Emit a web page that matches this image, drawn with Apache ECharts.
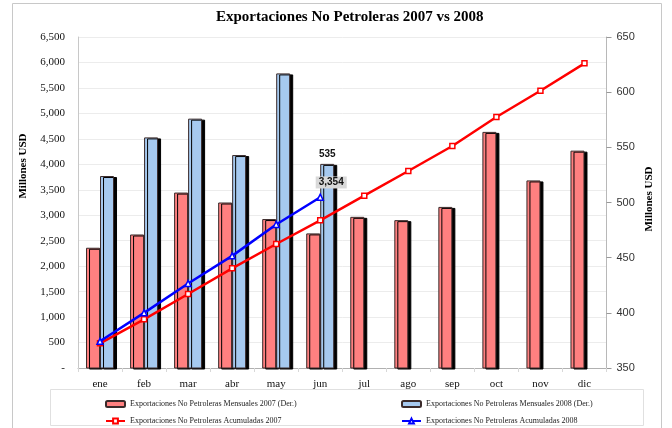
<!DOCTYPE html>
<html>
<head>
<meta charset="utf-8">
<script src="https://cdn.jsdelivr.net/npm/echarts@6/dist/echarts.min.js"></script>
<style>
  html, body { margin: 0; padding: 0; background: #fff; }
  #chart { width: 672px; height: 428px; }
</style>
</head>
<body>
<div id="chart"></div>
<script>
// datos
const meses = ['ene', 'feb', 'mar', 'abr', 'may', 'jun', 'jul', 'ago', 'sep', 'oct', 'nov', 'dic'];
const mensual2007 = [459, 471, 509, 500, 485, 472, 487, 484, 496, 564, 520, 547];
const mensual2008 = [524, 559, 576, 543, 617, 535];
const acum2007 = [485, 956, 1453, 1957, 2435, 2900, 3384, 3869, 4359, 4929, 5445, 5983];
const acum2008 = [524, 1083, 1659, 2202, 2819, 3354];

const names = [
  'Exportaciones No Petroleras Mensuales 2007 (Der.)',
  'Exportaciones No Petroleras Mensuales 2008 (Der.)',
  'Exportaciones No Petroleras Acumuladas 2007',
  'Exportaciones No Petroleras Acumuladas 2008'
];

const serif = '"Liberation Serif", "DejaVu Serif", serif';
const sans = '"Liberation Sans", Arial, sans-serif';

const chart = echarts.init(document.getElementById('chart'));

const barStyle = (color) => ({
  color: color,
  borderColor: '#3a2a2a',
  borderWidth: 1,
  shadowColor: '#000',
  shadowBlur: 0,
  shadowOffsetX: 3,
  shadowOffsetY: 1
});

const legendBase = {
  orient: 'horizontal',
  itemWidth: 19,
  itemHeight: 6,
  textStyle: { fontFamily: serif, fontSize: 8, color: '#222' }
};

const lastIdx = acum2008.length - 1;

chart.setOption({
  animation: false,
  backgroundColor: '#fff',
  title: {
    text: 'Exportaciones No Petroleras 2007 vs 2008',
    left: 211,
    top: 5,
    textStyle: { fontFamily: serif, fontSize: 15, fontWeight: 'bold', color: '#000' }
  },
  legend: [
    Object.assign({ data: [names[0]], left: 100, top: 395 }, legendBase),
    Object.assign({ data: [names[1]], left: 396, top: 395 }, legendBase),
    Object.assign({ data: [names[2]], left: 100, top: 412 }, legendBase),
    Object.assign({ data: [names[3]], left: 396, top: 412 }, legendBase)
  ],
  graphic: [
    { type: 'rect', shape: { x: 12.5, y: 3.5, width: 649, height: 440 },
      style: { fill: 'none', stroke: '#c8c8c8', lineWidth: 1 }, silent: true, z: -1 },
    { type: 'rect', shape: { x: 50.5, y: 389.5, width: 593, height: 36 },
      style: { fill: 'none', stroke: '#e0e0e0', lineWidth: 1 }, silent: true, z: -1 },
    { type: 'text', x: 23, y: 166, rotation: Math.PI / 2,
      style: { text: 'Millones USD', font: 'bold 11px ' + serif, fill: '#000',
               align: 'center', verticalAlign: 'middle' } },
    { type: 'text', x: 649, y: 199, rotation: Math.PI / 2,
      style: { text: 'Millones USD', font: 'bold 11px ' + serif, fill: '#000',
               align: 'center', verticalAlign: 'middle' } }
  ],
  grid: { left: 78, right: 65.5, top: 37, bottom: 60 },
  xAxis: {
    type: 'category',
    data: meses,
    axisLine: { lineStyle: { color: '#b0b0b0' } },
    axisTick: { show: true, length: 4, lineStyle: { color: '#d8d8d8' } },
    axisLabel: { fontFamily: serif, fontSize: 11, color: '#111', margin: 11 }
  },
  yAxis: [
    {
      type: 'value',
      min: 0, max: 6500, interval: 500,
      axisLine: { show: true, lineStyle: { color: '#c8c8c8' } },
      axisTick: { show: false },
      splitLine: { lineStyle: { color: '#ececec' } },
      axisLabel: {
        fontFamily: serif, fontSize: 11, color: '#111', margin: 13,
        formatter: v => v === 0 ? '-' : v.toLocaleString('en-US')
      }
    },
    {
      type: 'value',
      min: 350, max: 650, interval: 50,
      position: 'right',
      axisLine: { show: true, lineStyle: { color: '#b8b8b8' } },
      axisTick: { show: true, length: 5, lineStyle: { color: '#999' } },
      splitLine: { show: false },
      axisLabel: { fontFamily: sans, fontSize: 11, color: '#333', margin: 10 }
    }
  ],
  series: [
    {
      name: names[0], type: 'bar', yAxisIndex: 1,
      data: mensual2007, barWidth: 14, barGap: '0%',
      itemStyle: barStyle('#ff8080')
    },
    {
      name: names[1], type: 'bar', yAxisIndex: 1,
      data: mensual2008.map((v, i) => i === mensual2008.length - 1
        ? { value: v, label: { show: true, position: 'top', distance: 5,
            fontFamily: sans, fontSize: 10, fontWeight: 'bold', color: '#111' } }
        : v),
      barWidth: 14, barGap: '0%',
      itemStyle: barStyle('#a6c9ef')
    },
    {
      name: names[2], type: 'line', yAxisIndex: 0,
      data: acum2007,
      symbol: 'rect', symbolSize: 5,
      lineStyle: { color: '#ff0000', width: 2.5 },
      itemStyle: { color: '#fff', borderColor: '#ff0000', borderWidth: 1.5 },
      z: 5
    },
    {
      name: names[3], type: 'line', yAxisIndex: 0,
      data: acum2008.map((v, i) => i === lastIdx
        ? { value: v, label: { show: true, position: 'top', distance: 5, offset: [11, 0],
            formatter: p => p.value.toLocaleString('en-US'),
            fontFamily: sans, fontSize: 10, fontWeight: 'bold', color: '#111',
            backgroundColor: '#d9d9d9', padding: [1, 3] } }
        : v),
      symbol: 'triangle', symbolSize: 6,
      lineStyle: { color: '#0000ff', width: 2.5 },
      itemStyle: { color: '#fff', borderColor: '#0000ff', borderWidth: 1.5 },
      z: 6
    }
  ]
});
</script>
</body>
</html>
